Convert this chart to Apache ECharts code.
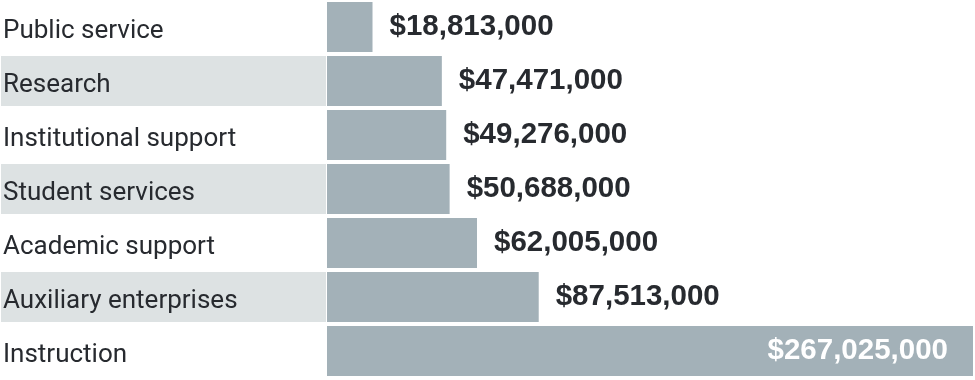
<!DOCTYPE html>
<html><head><meta charset="utf-8">
<script src="https://cdn.jsdelivr.net/npm/echarts@6/dist/echarts.min.js"></script>
<style>html,body{margin:0;padding:0;background:#fff}#c{width:975px;height:380px}</style>
</head><body><div id="c"></div>
<script>
const categories = ['Public service','Research','Institutional support','Student services','Academic support','Auxiliary enterprises','Instruction'];
const values = [18813000, 47471000, 49276000, 50688000, 62005000, 87513000, 267025000];
const stripes = [0, 1, 0, 1, 0, 1, 0];

const fmt = v => '$' + v.toLocaleString('en-US');
const chart = echarts.init(document.getElementById('c'));
chart.setOption({
  animation: false,
  grid: [
    {left: 0, width: 326, top: 0, height: 378},
    {left: 327, right: 2, top: 0, height: 378}
  ],
  xAxis: [
    {gridIndex: 0, type: 'value', min: 0, max: 1, show: false},
    {gridIndex: 1, type: 'value', min: 0, max: 267025000, show: false}
  ],
  yAxis: [
    {gridIndex: 0, type: 'category', inverse: true, data: categories,
     axisLine: {show: false}, axisTick: {show: false}, splitLine: {show: false},
     axisLabel: {inside: true, margin: 2, align: 'left',
       formatter: v => '{a|' + v + '}',
       rich: {a: {color: '#272a2f', fontFamily: 'Roboto', fontSize: 26, padding: [9, 0, 0, 0]}}},
     z: 10},
    {gridIndex: 1, type: 'category', inverse: true, data: categories, show: false}
  ],
  series: [
    {type: 'bar', xAxisIndex: 0, yAxisIndex: 0, data: stripes, barWidth: 50,
     itemStyle: {color: '#dde2e3'}, silent: true, z: 1},
    {type: 'bar', xAxisIndex: 1, yAxisIndex: 1, barWidth: 50,
     itemStyle: {color: '#a3b1b8'},
     data: values.map((v, i) => {
       const inside = v === Math.max(...values);
       return {value: v, label: inside ?
         {position: 'insideRight', distance: 25, color: '#ffffff'} :
         {position: 'right', distance: 17, color: '#272a2f'}};
     }),
     label: {show: true, formatter: p => fmt(p.value), fontFamily: 'Liberation Sans',
       fontWeight: 'bold', fontSize: 29.5, padding: [0, 0, 2, 0]}}
  ]
});
</script></body></html>
